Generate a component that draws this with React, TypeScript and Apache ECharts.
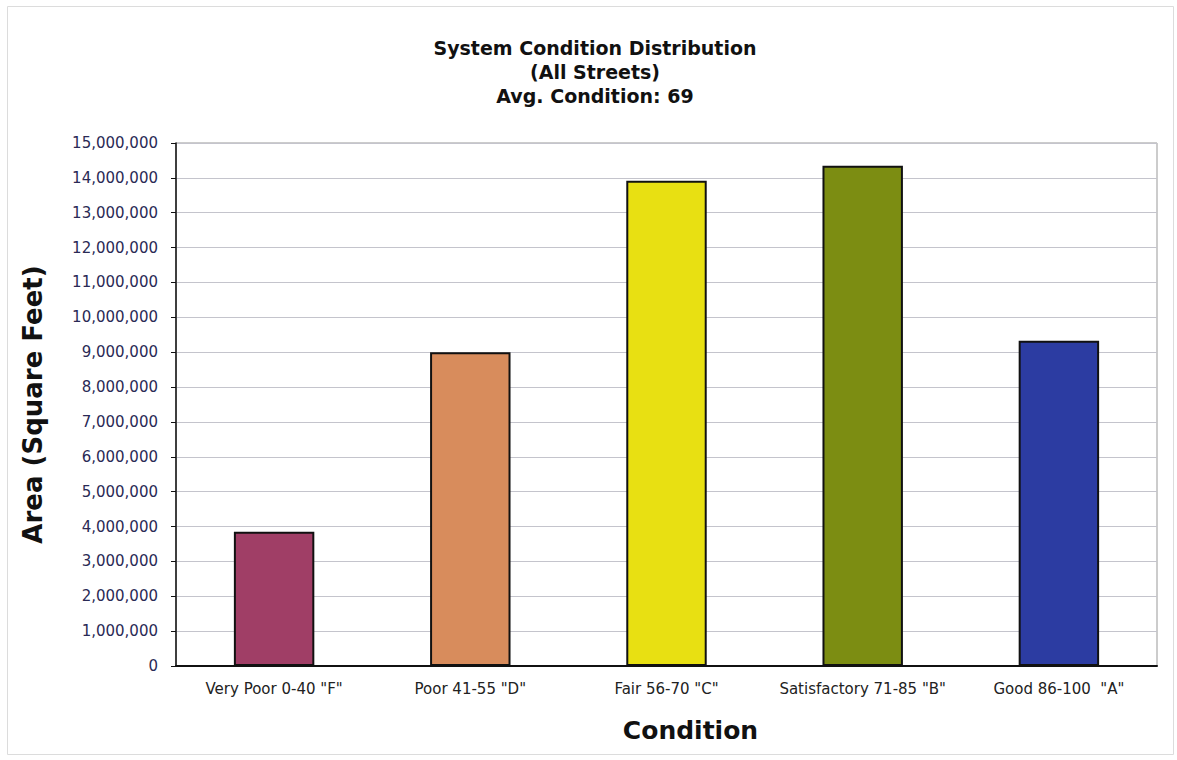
import React, { useEffect, useRef } from "react";
import * as echarts from "echarts";

const categories = ['Very Poor 0-40 "F"', 'Poor 41-55 "D"', 'Fair 56-70 "C"', 'Satisfactory 71-85 "B"', 'Good 86-100  "A"'];
const areaValues = [3850000, 9000000, 13920000, 14350000, 9330000];
const barColors = ["#A03E66", "#D88C5C", "#E8E012", "#7C8D12", "#2C3CA2"];
const titleLines = ["System Condition Distribution", "(All Streets)", "Avg. Condition: 69"];

const FONT = "'DejaVu Sans', Verdana, sans-serif";

export default function App() {
  const ref = useRef<HTMLDivElement>(null);
  useEffect(() => {
    if (!ref.current) return;
    const chart = echarts.init(ref.current, undefined, { renderer: "svg" });
    chart.setOption({
      animation: false,
      backgroundColor: "#ffffff",
      graphic: [
        {
          type: "rect",
          left: 5,
          top: 4,
          shape: { width: 1166, height: 748 },
          style: { fill: "none", stroke: "#dcdcdc", lineWidth: 1 },
          silent: true,
        },
      ],
      title: {
        text: titleLines.join("\n"),
        left: 590,
        textAlign: "center",
        top: 31,
        textStyle: { fontFamily: FONT, fontWeight: "bold", fontSize: 19, lineHeight: 24, color: "#111" },
      },
      grid: { left: 176, right: 20, top: 143, bottom: 94, show: true, borderColor: "#999", borderWidth: 1 },
      xAxis: {
        type: "category",
        data: categories,
        name: "Condition",
        nameLocation: "middle",
        nameGap: 52,
        nameTextStyle: { fontFamily: FONT, fontWeight: "bold", fontSize: 25, color: "#111", padding: [0, 0, 0, 48] },
        axisLine: { lineStyle: { color: "#111", width: 2 } },
        axisTick: { show: false },
        axisLabel: { fontFamily: FONT, fontSize: 15, color: "#222", margin: 15, interval: 0 },
      },
      yAxis: {
        type: "value",
        min: 0,
        max: 15000000,
        interval: 1000000,
        name: "Area (Square Feet)",
        nameLocation: "middle",
        nameGap: 130,
        nameTextStyle: { fontFamily: FONT, fontWeight: "bold", fontSize: 26, color: "#111" },
        axisLine: { show: true, lineStyle: { color: "#111", width: 1.5 } },
        axisTick: { show: true, length: 5, lineStyle: { color: "#111" } },
        axisLabel: {
          fontFamily: FONT,
          fontSize: 15,
          color: "#2a2a55",
          margin: 18,
          formatter: (v: number) => v.toLocaleString("en-US"),
        },
        splitLine: { lineStyle: { color: "#c4c4cc", width: 1 } },
      },
      series: [
        {
          type: "bar",
          data: areaValues.map((v, i) => ({ value: v, itemStyle: { color: barColors[i] } })),
          barWidth: "41%",
          itemStyle: { borderColor: "#111", borderWidth: 2 },
        },
      ],
    });
    return () => chart.dispose();
  }, []);
  return <div ref={ref} style={{ position: "fixed", left: 0, top: 0, width: 1177, height: 760 }} />;
}
